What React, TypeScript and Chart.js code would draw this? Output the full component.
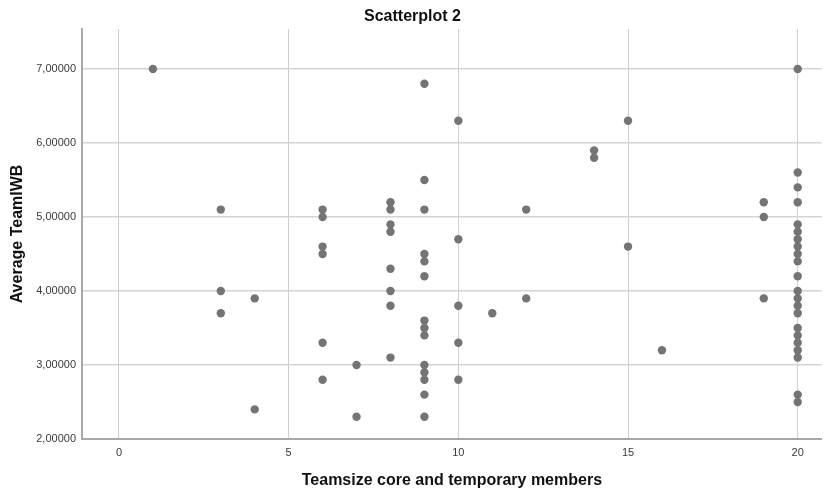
import React, { useEffect, useRef } from "react";
import { Chart, registerables } from "chart.js";

Chart.register(...registerables);

// Teamsize (x) and Average TeamIWB (y), one entry per respondent team
const teamsize: number[] = [
  1,
  3, 3, 3,
  4, 4,
  6, 6, 6, 6, 6, 6,
  7, 7,
  8, 8, 8, 8, 8, 8, 8, 8,
  9, 9, 9, 9, 9, 9, 9, 9, 9, 9, 9, 9, 9, 9,
  10, 10, 10, 10, 10,
  11,
  12, 12,
  14, 14,
  15, 15,
  16,
  19, 19, 19,
  20, 20, 20, 20, 20, 20, 20, 20, 20, 20, 20, 20, 20, 20, 20, 20, 20, 20, 20, 20, 20, 20,
];

const teamIWB: number[] = [
  7.0,
  5.1, 4.0, 3.7,
  3.9, 2.4,
  5.1, 5.0, 4.6, 4.5, 3.3, 2.8,
  3.0, 2.3,
  5.2, 5.1, 4.9, 4.8, 4.3, 4.0, 3.8, 3.1,
  6.8, 5.5, 5.1, 4.5, 4.4, 4.2, 3.6, 3.5, 3.4, 3.0, 2.9, 2.8, 2.6, 2.3,
  6.3, 4.7, 3.8, 3.3, 2.8,
  3.7,
  5.1, 3.9,
  5.9, 5.8,
  6.3, 4.6,
  3.2,
  5.2, 5.0, 3.9,
  7.0, 5.6, 5.4, 5.2, 4.9, 4.8, 4.7, 4.6, 4.5, 4.4, 4.2, 4.0, 3.9, 3.8, 3.7, 3.5, 3.4, 3.3, 3.2, 3.1, 2.6, 2.5,
];

const xTicks: number[] = [0, 5, 10, 15, 20];
const yTicks: number[] = [2, 3, 4, 5, 6, 7];

const chartTitle = "Scatterplot 2";
const xTitle = "Teamsize core and temporary members";
const yTitle = "Average TeamIWB";

const FONT = "'Liberation Sans', Arial, Helvetica, sans-serif";

export default function App() {
  const ref = useRef<HTMLCanvasElement | null>(null);

  useEffect(() => {
    document.body.style.margin = "0";
    if (!ref.current) return;
    const points = teamsize.map((x, i) => ({ x, y: teamIWB[i] }));
    const chart = new Chart(ref.current, {
      type: "scatter",
      data: {
        datasets: [
          {
            data: points,
            backgroundColor: "#747474",
            borderWidth: 0,
            pointRadius: 4.2,
            pointHoverRadius: 4.2,
          },
        ],
      },
      options: {
        animation: false,
        responsive: false,
        layout: { padding: { left: 0, right: 1, top: 0, bottom: 0 } },
        plugins: {
          legend: { display: false },
          tooltip: { enabled: false },
          title: {
            display: true,
            text: chartTitle,
            color: "#111",
            font: { family: FONT, size: 16, weight: "bold" },
            padding: { top: 7, bottom: 2.8 },
          },
        },
        scales: {
          x: {
            type: "linear",
            min: -1.09,
            max: 20.71,
            afterBuildTicks: (scale: any) => {
              scale.ticks = xTicks.map((v) => ({ value: v }));
            },
            afterFit: (scale: any) => {
              scale.height = 54;
            },
            grid: { color: "#cfcfcf", lineWidth: 1, drawTicks: false },
            border: { color: "#a8a8a8", width: 2 },
            ticks: {
              color: "#3a3a3a",
              padding: 7,
              font: { family: FONT, size: 11 },
              callback: (v: any) => String(v),
            },
            title: {
              display: true,
              text: xTitle,
              color: "#111",
              font: { family: FONT, size: 16, weight: "bold" },
              padding: { top: 0, bottom: 3 },
            },
          },
          y: {
            type: "linear",
            min: 2,
            max: 7.54,
            afterBuildTicks: (scale: any) => {
              scale.ticks = yTicks.map((v) => ({ value: v }));
            },
            afterFit: (scale: any) => {
              scale.width = 82;
            },
            grid: { color: "#d4d4d4", lineWidth: 1.5, drawTicks: false },
            border: { color: "#a8a8a8", width: 2 },
            ticks: {
              color: "#3a3a3a",
              padding: 6,
              font: { family: FONT, size: 11 },
              callback: (v: any) => Number(v).toFixed(5).replace(".", ","),
            },
            title: {
              display: true,
              text: yTitle,
              color: "#111",
              font: { family: FONT, size: 16, weight: "bold" },
              padding: { top: 8, bottom: 0 },
            },
          },
        },
      },
    });
    return () => chart.destroy();
  }, []);

  return <canvas ref={ref} width={826} height={493} style={{ display: "block" }} />;
}
